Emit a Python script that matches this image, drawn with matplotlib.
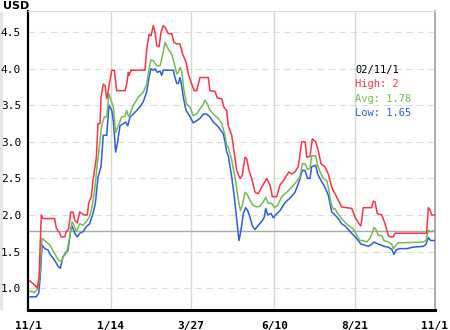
import matplotlib
matplotlib.use("Agg")
import matplotlib.pyplot as plt
import pandas as pd
import numpy as np

start = "2001-11-01"

high_days = [1.5, 6.0, 8.3, 9.9, 11.9, 13.5, 23.9, 25.4, 28.4, 29.9, 32.9, 34.3, 36.5, 38.3, 40.4, 41.9, 44.2, 46.4, 48.4, 50.2,
             53.2, 54.4, 56.8, 58.3, 61.3, 62.8, 64.6, 65.5, 67.5, 69.1, 70.6, 72.0, 73.5, 75.1, 77.4, 79.5, 87.0, 88.5, 90.0, 90.8,
             92.4, 104.9, 106.4, 108.5, 110.3, 112.4, 113.9, 115.4, 117.5, 119.3, 121.3, 122.9, 125.8, 128.9, 130.9, 133.4, 136.3,
             138.7, 141.7, 143.8, 146.8, 149.1, 151.3, 154.2, 161.7, 163.2, 167.7, 169.8, 173.7, 175.8, 178.2, 179.6, 182.7, 185.0,
             187.2, 190.1, 192.2, 194.6, 196.1, 198.2, 200.6, 203.6, 206.5, 209.6, 214.1, 217.0, 219.1, 223.0, 226.0, 229.0, 232.0,
             234.1, 236.5, 239.4, 242.4, 245.5, 248.5, 250.0, 252.9, 255.0, 258.0, 260.3, 262.8, 266.3, 269.3, 272.4, 275.3, 278.3,
             281.3, 290.3, 293.3, 296.8, 298.6, 300.7, 308.2, 309.7, 311.2, 313.2, 317.2, 320.2, 323.1, 324.6, 327.6, 329.1, 357.5,
             359.0, 360.5, 362.0, 365.0]
high_vals = [1.10, 1.04, 1.00, 1.15, 2.00, 1.95, 1.95, 1.82, 1.75, 1.70, 1.70, 1.77, 1.81, 2.04, 2.04, 1.93, 1.89, 2.04, 2.02, 2.00,
             2.00, 2.16, 2.25, 2.47, 2.79, 3.25, 3.25, 3.61, 3.79, 3.77, 3.59, 3.70, 3.84, 3.98, 3.98, 3.70, 3.70, 3.79, 3.95, 3.91,
             3.98, 3.98, 4.25, 4.47, 4.45, 4.59, 4.50, 4.32, 4.30, 4.50, 4.59, 4.57, 4.48, 4.48, 4.36, 4.34, 4.34,
             4.20, 4.09, 3.93, 3.79, 3.70, 3.70, 3.88, 3.88, 3.70, 3.69, 3.60, 3.59, 3.47, 3.43, 3.22, 3.09, 2.84,
             2.61, 2.50, 2.54, 2.79, 2.77, 2.61, 2.50, 2.31, 2.29, 2.38, 2.50, 2.41, 2.25, 2.25, 2.41, 2.47, 2.54,
             2.59, 2.56, 2.59, 2.66, 3.00, 3.00, 2.79, 2.80, 3.04, 3.00, 2.88, 2.70, 2.66, 2.56, 2.38, 2.29, 2.20,
             2.11, 2.09, 1.97, 1.88, 1.85, 2.10, 2.10, 2.19, 2.18, 2.02, 2.00, 1.88, 1.72, 1.70, 1.70, 1.75, 1.75,
             2.10, 2.07, 2.00, 2.00]

avg_days = [1.5, 6.0, 9.0, 10.5, 12.6, 15.0, 19.5, 23.9, 27.5, 29.9, 32.9, 35.2, 37.4, 39.5, 41.3, 43.3, 46.4, 49.3, 52.3, 55.3,
            57.4, 59.8, 62.1, 63.0, 64.6, 66.1, 68.4, 70.6, 72.6, 74.4, 76.5, 78.6, 81.0, 84.0, 87.0, 88.5, 90.0, 91.5, 94.4, 98.9,
            103.4, 106.4, 108.5, 110.3, 112.4, 115.4, 118.4, 121.3, 122.9, 125.8, 128.9, 130.9, 133.4, 134.8, 136.3, 137.8, 139.9,
            142.3, 145.3, 148.2, 151.3, 154.2, 156.7, 158.7, 160.8, 163.2, 166.2, 170.7, 173.7, 176.7, 178.2, 179.6, 182.7, 186.1,
            189.1, 190.6, 192.2, 194.6, 197.0, 199.1, 202.0, 205.1, 208.1, 211.0, 213.2, 215.5, 218.5, 220.9, 223.9, 227.5, 232.0,
            236.5, 239.4, 243.9, 246.0, 248.4, 250.8, 252.9, 254.4, 258.0, 259.8, 261.9, 264.8, 267.9, 269.3, 271.7, 273.8, 275.3,
            277.7, 281.3, 284.3, 287.2, 291.7, 294.8, 297.7, 300.7, 303.7, 306.7, 309.1, 310.3, 312.1, 314.2, 317.2, 319.3, 323.1,
            326.2, 327.6, 330.0, 332.1, 336.6, 354.5, 356.9, 359.0, 361.1, 363.5, 365.0]
avg_vals = [0.96, 0.94, 1.00, 1.15, 1.68, 1.65, 1.59, 1.47, 1.38, 1.36, 1.47, 1.52, 1.70, 1.91, 1.86, 1.77, 1.88, 1.86, 1.91, 1.98,
            2.11, 2.34, 2.70, 2.80, 3.02, 3.22, 3.34, 3.34, 3.66, 3.57, 3.48, 3.13, 3.22, 3.34, 3.35, 3.43, 3.35, 3.38, 3.50, 3.61,
            3.68, 3.79, 4.00, 4.12, 4.11, 4.04, 4.04, 4.23, 4.36, 4.27, 4.20, 4.09, 3.93, 3.95, 4.02, 3.97, 3.70,
            3.52, 3.47, 3.36, 3.38, 3.45, 3.50, 3.57, 3.52, 3.43, 3.38, 3.32, 3.25, 3.09, 2.95, 2.93, 2.75, 2.47,
            2.16, 2.06, 2.13, 2.31, 2.27, 2.20, 2.13, 2.11, 2.12, 2.18, 2.24, 2.16, 2.16, 2.10, 2.13, 2.25, 2.31,
            2.38, 2.43, 2.52, 2.70, 2.70, 2.62, 2.64, 2.81, 2.81, 2.68, 2.59, 2.50, 2.47, 2.38, 2.16, 2.08, 2.09,
            2.02, 1.95, 1.90, 1.86, 1.81, 1.72, 1.65, 1.65, 1.63, 1.68, 1.77, 1.83, 1.80, 1.72, 1.72, 1.65, 1.63,
            1.60, 1.54, 1.59, 1.62, 1.62, 1.63, 1.65, 1.79, 1.77, 1.78, 1.78]

low_days = [1.5, 7.4, 9.6, 11.0, 12.6, 15.0, 17.9, 19.5, 23.9, 26.9, 29.0, 31.4, 33.5, 35.9, 38.3, 39.5, 41.9, 44.2, 46.4, 49.3,
            52.3, 55.3, 58.3, 60.4, 62.8, 65.5, 67.5, 70.6, 72.6, 75.1, 76.5, 77.4, 78.6, 80.4, 82.5, 85.5, 87.6, 89.4, 91.5, 94.4,
            97.5, 100.4, 103.4, 106.4, 108.5, 110.3, 112.4, 113.9, 116.0, 118.4, 119.9, 121.3, 130.3, 131.8, 133.4, 134.8, 136.3,
            137.8, 139.3, 141.7, 144.7, 148.2, 151.3, 154.2, 157.2, 160.3, 163.2, 166.2, 169.8, 172.8, 175.1, 176.7, 178.2, 179.6,
            182.7, 185.0, 187.2, 189.2, 191.0, 193.1, 195.2, 197.0, 199.1, 201.2, 203.6, 206.0, 209.6, 211.9, 213.2, 215.0, 217.9,
            220.0, 222.1, 226.0, 230.5, 235.0, 239.4, 243.0, 246.0, 248.4, 250.8, 252.9, 254.4, 258.0, 259.8, 262.8, 266.3, 269.3,
            272.4, 275.3, 278.3, 281.3, 284.3, 287.2, 290.3, 293.3, 296.2, 298.6, 301.6, 305.2, 308.2, 310.3, 312.7, 316.3, 319.3,
            323.1, 326.2, 328.2, 330.0, 333.0, 339.6, 345.5, 354.5, 356.9, 359.0, 361.1, 365.0]
low_vals = [0.88, 0.88, 0.93, 1.15, 1.59, 1.54, 1.52, 1.47, 1.38, 1.30, 1.27, 1.43, 1.47, 1.52, 1.79, 1.85, 1.75, 1.70, 1.75, 1.77,
            1.84, 1.88, 2.02, 2.16, 2.52, 2.66, 3.09, 3.09, 3.50, 3.43, 3.29, 3.11, 2.86, 3.00, 3.22, 3.25, 3.27, 3.22, 3.34, 3.38,
            3.43, 3.48, 3.55, 3.68, 3.88, 4.00, 3.98, 4.00, 3.95, 3.97, 3.91, 3.98, 3.98, 3.88, 3.80, 3.80, 3.88,
            3.77, 3.61, 3.43, 3.36, 3.26, 3.29, 3.32, 3.38, 3.38, 3.34, 3.27, 3.22, 3.16, 3.11, 3.00, 2.86, 2.81,
            2.52, 2.25, 1.93, 1.65, 1.79, 2.02, 2.10, 2.06, 1.97, 1.85, 1.80, 1.85, 1.91, 1.97, 2.09, 2.00, 2.02,
            1.96, 2.00, 2.06, 2.17, 2.23, 2.31, 2.45, 2.61, 2.61, 2.50, 2.50, 2.66, 2.68, 2.56, 2.47, 2.38, 2.27,
            2.04, 2.00, 1.95, 1.88, 1.85, 1.80, 1.75, 1.70, 1.65, 1.60, 1.59, 1.57, 1.60, 1.63, 1.61, 1.59, 1.57,
            1.56, 1.53, 1.46, 1.52, 1.54, 1.54, 1.56, 1.57, 1.60, 1.69, 1.65, 1.65]

avg_level = 1.78
tick_dates = ["2001-11-01", "2002-01-14", "2002-03-27", "2002-06-10", "2002-08-21", "2002-11-01"]
tick_labels = ["11/1", "1/14", "3/27", "6/10", "8/21", "11/1"]
y_ticks = [1.0, 1.5, 2.0, 2.5, 3.0, 3.5, 4.0, 4.5]
info_lines = ["02/11/1", "High: 2", "Avg: 1.78", "Low: 1.65"]

RED = "#ff3344"
GREEN = "#77bb55"
BLUE = "#2a5fdd"

def to_dates(days):
    return pd.Timestamp(start) + pd.to_timedelta(np.array(days), unit="D")

fig = plt.figure(figsize=(4.5, 3.3), dpi=100)
fig.patch.set_facecolor("white")
ax = fig.add_axes([28 / 450, 1 - 310 / 330, 407 / 450, 299 / 330])

t0 = pd.Timestamp(tick_dates[0])
t1 = pd.Timestamp(tick_dates[-1])
ax.set_xlim(t0, t1)
ax.set_ylim(0.70, 4.79)

for v in y_ticks:
    ax.axhline(v, color="#dddddd", lw=0.8, ls=(0, (6, 4)), zorder=1)
for d in tick_dates[1:-1]:
    ax.axvline(pd.Timestamp(d), color="#d6dccb", lw=1.0, zorder=1)
ax.axhline(avg_level, color="#aaaaaa", lw=1.0, zorder=2)

ax.plot(to_dates(low_days), low_vals, color=BLUE, lw=1.1, zorder=3)
ax.plot(to_dates(avg_days), avg_vals, color=GREEN, lw=1.1, zorder=4)
ax.plot(to_dates(high_days), high_vals, color=RED, lw=1.1, zorder=5)

ax.set_xticks([pd.Timestamp(d) for d in tick_dates])
ax.set_xticklabels(tick_labels, fontsize=8, fontweight="bold", family="DejaVu Sans Mono")
ax.set_yticks(y_ticks)
ax.set_yticklabels([f"{v:.1f}" for v in y_ticks], fontsize=8, family="DejaVu Sans Mono")
ax.tick_params(axis="both", length=0)
ax.tick_params(axis="x", pad=8)
ax.tick_params(axis="y", pad=5)

ax.spines["left"].set_color("black")
ax.spines["left"].set_linewidth(1.6)
ax.spines["bottom"].set_color("black")
ax.spines["bottom"].set_linewidth(2.2)
ax.spines["top"].set_color("#dddddd")
ax.spines["top"].set_linewidth(0.8)
ax.spines["right"].set_color("#aaaaaa")
ax.spines["right"].set_linewidth(1.4)

fig.text(3 / 450, 1 - 6 / 330, "USD", fontsize=8, fontweight="bold", family="DejaVu Sans", va="center", ha="left")

info_colors = ["black", RED, GREEN, BLUE]
info_y = [70, 84, 99, 113]
for txt, c, yy in zip(info_lines, info_colors, info_y):
    fig.text(355 / 450, 1 - yy / 330, txt, color=c, fontsize=7.5, family="DejaVu Sans Mono", va="center", ha="left")

fig.add_artist(plt.Rectangle((0, 1 - 310 / 330), 2.5 / 450, 298 / 330, transform=fig.transFigure,
                             color="#e3e9df", lw=0, zorder=0))

fig.savefig("out.png", dpi=100, facecolor="white")
